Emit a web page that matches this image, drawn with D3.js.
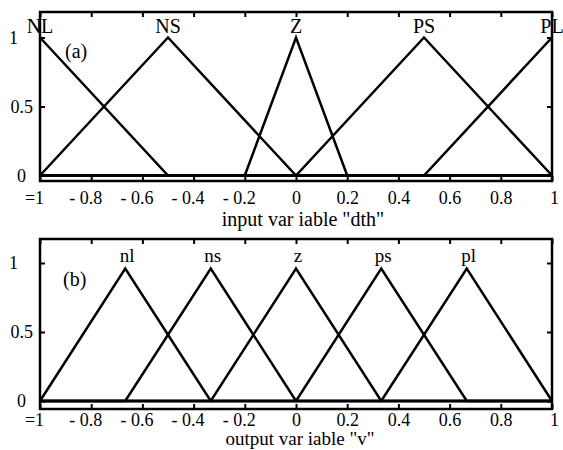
<!DOCTYPE html>
<html lang="en">
<head>
<meta charset="UTF-8" />
<title>Membership functions</title>
<script src="https://d3js.org/d3.v7.min.js"></script>
<style>
  body { margin: 0; background: #fff; }
  svg text { font-family: "Liberation Serif", "Times New Roman", serif; fill: #000; }
  .tick line { stroke: #000; stroke-width: 2; }
  .mf { fill: none; stroke: #000; stroke-width: 2.5; stroke-linejoin: miter; }
</style>
</head>
<body>
<svg id="chart" width="563" height="450"></svg>
<script>
// axis ticks
const xTicks = [-1, -0.8, -0.6, -0.4, -0.2, 0, 0.2, 0.4, 0.6, 0.8, 1];
const xTickLabels = ["=1", "- 0.8", "- 0.6", "- 0.4", "- 0.2", "0", "0.2", "0.4", "0.6", "0.8", "1"];
const yTicks = [0, 0.5, 1];
const yTickLabels = ["0", "0.5", "1"];

// (a) input membership functions: breakpoints
const inputNames = ["NL", "NS", "Z", "PS", "PL"];
const inputX = [
  [-1, -0.5, 1],
  [-1, -0.5, 0, 1],
  [-1, -0.2, 0, 0.2, 1],
  [-1, 0, 0.5, 1],
  [-1, 0.5, 1]
];
const inputY = [
  [1, 0, 0],
  [0, 1, 0, 0],
  [0, 0, 1, 0, 0],
  [0, 0, 1, 0],
  [0, 0, 1]
];

// (b) output membership functions
const outputNames = ["nl", "ns", "z", "ps", "pl"];
const outputX = [
  [-1, -0.667, -0.333, 1],
  [-1, -0.667, -0.333, 0, 1],
  [-1, -0.333, 0, 0.333, 1],
  [-1, 0, 0.333, 0.667, 1],
  [-1, 0.333, 0.667, 1]
];
const outputY = [
  [0, 0.96, 0, 0],
  [0, 0, 0.96, 0, 0],
  [0, 0, 0.96, 0, 0],
  [0, 0, 0.96, 0, 0],
  [0, 0, 0.96, 0]
];

const svg = d3.select("#chart");
const left = 40, right = 552;

function drawPanel(p) {
  const x = d3.scaleLinear().domain([-1, 1]).range([left, right]);
  const y = d3.scaleLinear().domain(p.yDomain).range([p.bottom, p.top]);
  const g = svg.append("g");

  // membership functions
  const line = d3.line().x(d => x(d[0])).y(d => y(d[1]));
  p.xs.forEach((xs, i) => {
    const pts = xs.map((v, j) => [v, p.ys[i][j]]);
    g.append("path").attr("class", "mf").attr("d", line(pts));
    const k = p.ys[i].indexOf(d3.max(p.ys[i]));
    g.append("text")
      .attr("x", x(xs[k]) + p.labelDx)
      .attr("y", y(p.ys[i][k]) - p.labelGap)
      .attr("text-anchor", "middle")
      .style("font-size", p.labelSize + "px")
      .text(p.names[i]);
  });

  // bottom axis with labels
  const bx = g.append("g")
    .attr("transform", `translate(0,${p.bottom})`)
    .call(d3.axisBottom(x).tickValues(xTicks).tickSizeInner(-5).tickSizeOuter(0)
      .tickPadding(p.xPad).tickFormat((d, i) => xTickLabels[i]));
  bx.selectAll("text").style("font-size", "18px").attr("dx", d => d < 0 ? -6 : (d === 1 ? 2 : 0));

  // top axis, ticks only
  g.append("g")
    .attr("transform", `translate(0,${p.top})`)
    .call(d3.axisTop(x).tickValues(xTicks).tickSizeInner(-5).tickSizeOuter(0).tickFormat(""));

  // left axis
  const ly = g.append("g")
    .attr("transform", `translate(${left},0)`)
    .call(d3.axisLeft(y).tickValues(yTicks).tickSizeInner(-5).tickSizeOuter(0)
      .tickPadding(7).tickFormat((d, i) => yTickLabels[i]));
  ly.selectAll("text").style("font-size", "18px").attr("dx", d => d === 1 ? -15 : (d === 0 ? -7 : 0));

  // right axis, ticks only
  g.append("g")
    .attr("transform", `translate(${right},0)`)
    .call(d3.axisRight(y).tickValues(yTicks).tickSizeInner(-5).tickSizeOuter(0).tickFormat(""));

  g.selectAll(".domain").remove();
  g.selectAll("text").attr("font-family", null);

  // frame
  g.append("rect")
    .attr("x", left).attr("y", p.top)
    .attr("width", right - left).attr("height", p.bottom - p.top)
    .attr("fill", "none").attr("stroke", "#000").attr("stroke-width", 2.5);

  g.append("text").attr("x", p.tagX).attr("y", p.tagY)
    .style("font-size", "20px").text(p.tag);

  g.append("text").attr("x", p.titleX).attr("y", p.titleY)
    .attr("text-anchor", "middle").style("font-size", p.titleSize + "px").text(p.title);
}

drawPanel({
  top: 12, bottom: 181, yDomain: [-0.04, 1.185],
  xs: inputX, ys: inputY, names: inputNames, labelSize: 20, labelDx: 0, labelGap: 4.5,
  xPad: 10, tag: "(a)", tagX: 65, tagY: 58,
  title: "input var iable \"dth\"", titleX: 303, titleY: 226, titleSize: 20
});

drawPanel({
  top: 239, bottom: 409, yDomain: [-0.058, 1.174],
  xs: outputX, ys: outputY, names: outputNames, labelSize: 19, labelDx: 2, labelGap: 7,
  xPad: 4, tag: "(b)", tagX: 63, tagY: 286,
  title: "output var iable \"v\"", titleX: 300, titleY: 445, titleSize: 19
});
</script>
</body>
</html>
